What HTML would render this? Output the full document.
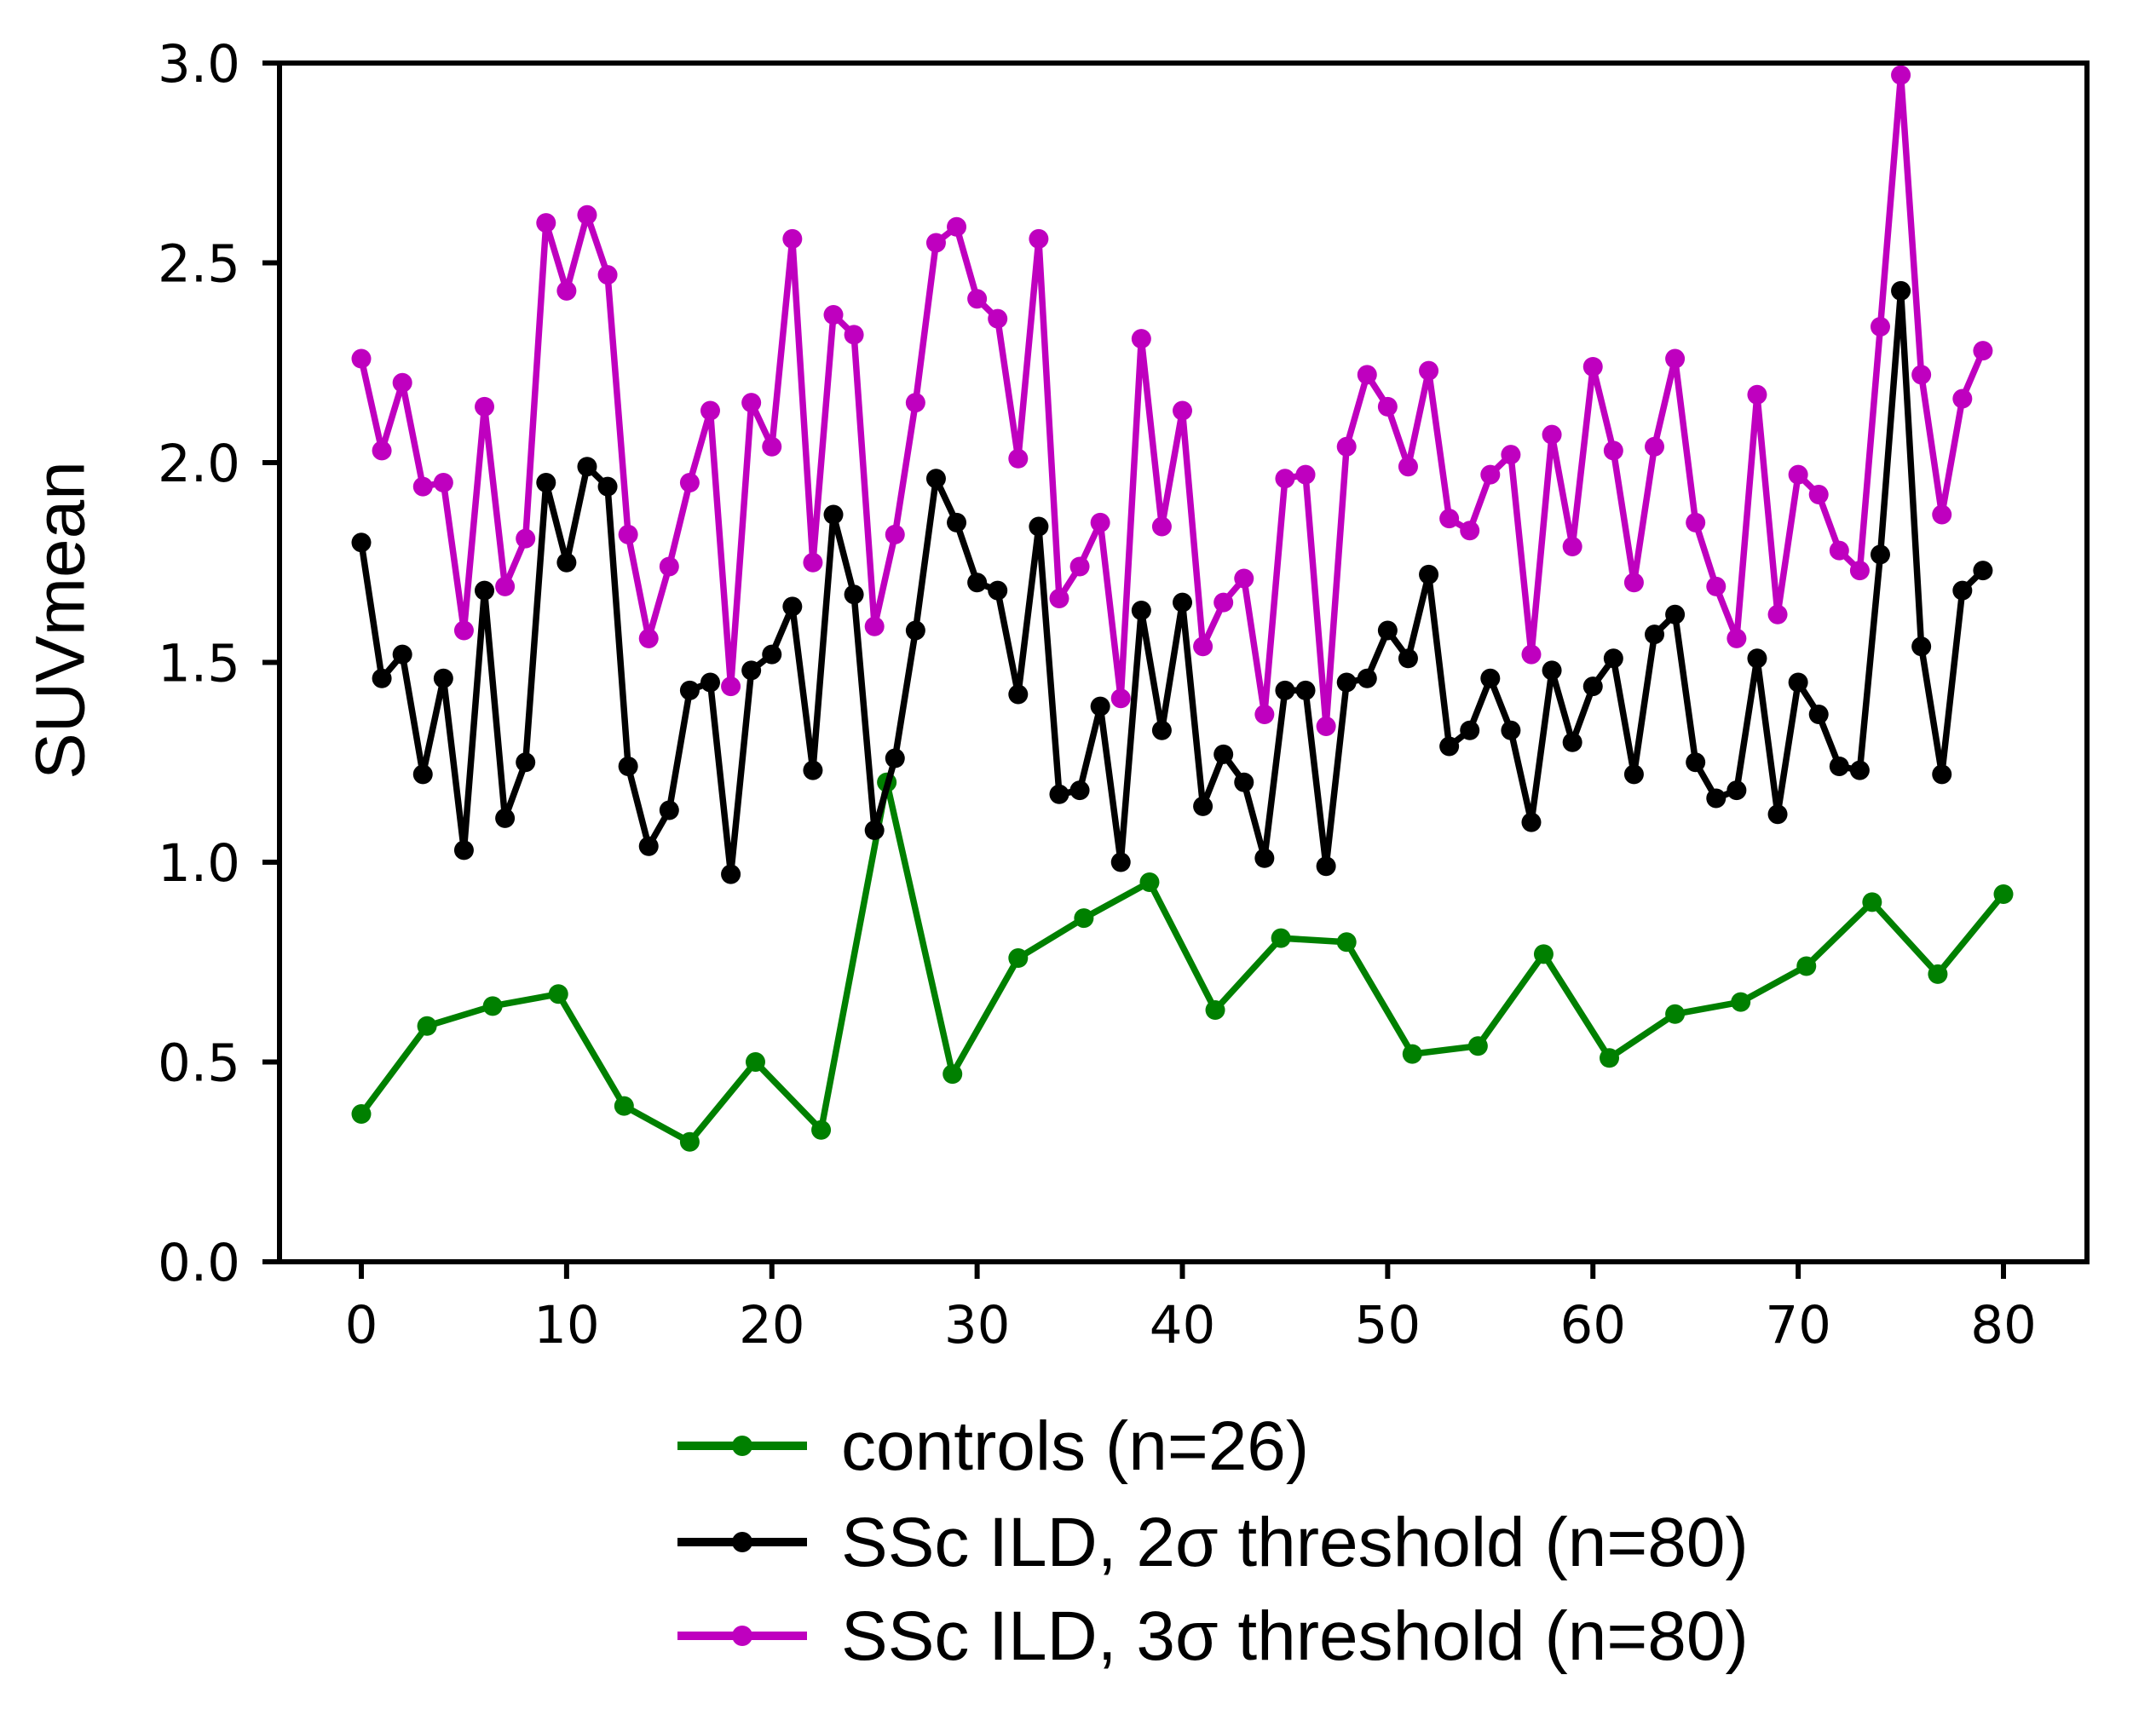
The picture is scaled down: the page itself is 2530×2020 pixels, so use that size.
<!DOCTYPE html>
<html><head><meta charset="utf-8"><style>
html,body{margin:0;padding:0;background:#fff}
svg{display:block}
</style></head><body>
<svg id="chart" width="2530" height="2020" viewBox="0 0 2530 2020" xmlns="http://www.w3.org/2000/svg">
<g id="plot"></g>
<text x="77" y="728" transform="rotate(-90 77 728)" text-anchor="middle" dominant-baseline="middle" font-family="Liberation Sans, sans-serif" font-size="82" fill="#000">SUVmean</text>
</svg>
<script>
const magentaValues=[2.26,2.03,2.20,1.94,1.95,1.58,2.14,1.69,1.81,2.60,2.43,2.62,2.47,1.82,1.56,1.74,1.95,2.13,1.44,2.15,2.04,2.56,1.75,2.37,2.32,1.59,1.82,2.15,2.55,2.59,2.41,2.36,2.01,2.56,1.66,1.74,1.85,1.41,2.31,1.84,2.13,1.54,1.65,1.71,1.37,1.96,1.97,1.34,2.04,2.22,2.14,1.99,2.23,1.86,1.83,1.97,2.02,1.52,2.07,1.79,2.24,2.03,1.70,2.04,2.26,1.85,1.69,1.56,2.17,1.62,1.97,1.92,1.78,1.73,2.34,2.97,2.22,1.87,2.16,2.28];
const blackValues=[1.80,1.46,1.52,1.22,1.46,1.03,1.68,1.11,1.25,1.95,1.75,1.99,1.94,1.24,1.04,1.13,1.43,1.45,0.97,1.48,1.52,1.64,1.23,1.87,1.67,1.08,1.26,1.58,1.96,1.85,1.70,1.68,1.42,1.84,1.17,1.18,1.39,1.00,1.63,1.33,1.65,1.14,1.27,1.20,1.01,1.43,1.43,0.99,1.45,1.46,1.58,1.51,1.72,1.29,1.33,1.46,1.33,1.10,1.48,1.30,1.44,1.51,1.22,1.57,1.62,1.25,1.16,1.18,1.51,1.12,1.45,1.37,1.24,1.23,1.77,2.43,1.54,1.22,1.68,1.73];
const greenValues=[0.37,0.59,0.64,0.67,0.39,0.30,0.50,0.33,1.20,0.47,0.76,0.86,0.95,0.63,0.81,0.80,0.52,0.54,0.77,0.51,0.62,0.65,0.74,0.90,0.72,0.92];
const xTicks=[0,10,20,30,40,50,60,70,80];
const yTicks=[0.0,0.5,1.0,1.5,2.0,2.5,3.0];
const legendLabels=["controls (n=26)","SSc ILD, 2σ threshold (n=80)","SSc ILD, 3σ threshold (n=80)"];

const NS="http://www.w3.org/2000/svg";
const L=328,R=2449,T=74,B=1481;
const X0=424,XU=(2351-424)/80;
const xs=v=>X0+v*XU;
const ys=v=>B-(v/3)*(B-T);
const plot=document.getElementById('plot');
function mk(tag,attrs,parent){const e=document.createElementNS(NS,tag);for(const k in attrs)e.setAttribute(k,attrs[k]);(parent||plot).appendChild(e);return e;}

function series(vals,xf,color,name){
  const g=mk('g',{});
  
  
  const pts=vals.map((v,i)=>xs(xf(i)).toFixed(1)+','+ys(v).toFixed(1)).join(' ');
  const pl=mk('polyline',{points:pts,fill:'none',stroke:color,'stroke-width':7.5,'stroke-linejoin':'round'},g);
  
  
  vals.forEach((v,i)=>{
    const c=mk('circle',{cx:xs(xf(i)),cy:ys(v),r:11.5,fill:color},g);
    
    
  });
}
series(greenValues,i=>i*80/(greenValues.length-1),'#008000','controls');
series(blackValues,i=>i,'#000000','ssc-2sigma');
series(magentaValues,i=>i,'#bf00bf','ssc-3sigma');

const frame=mk('rect',{x:L,y:T,width:R-L,height:B-T,fill:'none',stroke:'#000','stroke-width':6});



xTicks.forEach(t=>{
  const x=xs(t);
  const tl=mk('line',{x1:x,y1:B,x2:x,y2:B+20,stroke:'#000','stroke-width':6});
  
  
  const tx=mk('text',{x:x,y:1576,'text-anchor':'middle','font-family':'DejaVu Sans, sans-serif','font-size':61,fill:'#000'});
  tx.textContent=String(t);
  
  
});
yTicks.forEach(t=>{
  const y=ys(t);
  const tl=mk('line',{x1:L-20,y1:y,x2:L,y2:y,stroke:'#000','stroke-width':6});
  
  
  const tx=mk('text',{x:282,y:y+22,'text-anchor':'end','font-family':'DejaVu Sans, sans-serif','font-size':61,fill:'#000'});
  tx.textContent=t.toFixed(1);
  
  
});

const legColors=['#008000','#000000','#bf00bf'];
const legY=[1697,1810,1920];
const lg=mk('g',{});


legendLabels.forEach((lab,i)=>{
  const ln=mk('line',{x1:795,y1:legY[i],x2:947,y2:legY[i],stroke:legColors[i],'stroke-width':10},lg);
  
  
  const c=mk('circle',{cx:871,cy:legY[i],r:12,fill:legColors[i]},lg);
  
  
  const tx=mk('text',{x:987,y:legY[i]+28,'font-family':'Liberation Sans, sans-serif','font-size':82,fill:'#000'},lg);
  tx.textContent=lab;
  
  
});
</script>
</body></html>
